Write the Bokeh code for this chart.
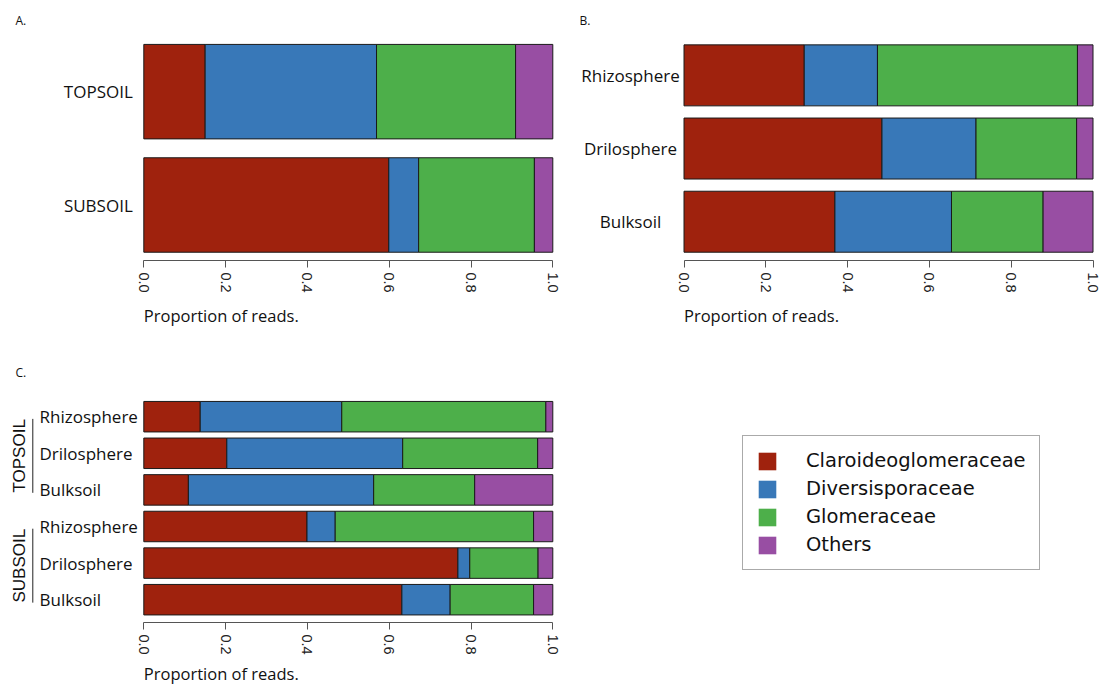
import math
from bokeh.plotting import figure
from bokeh.models import (Range1d, FixedTicker, PrintfTickFormatter, Title,
                          Legend, LegendItem, ColumnDataSource)
from bokeh.layouts import row, column
from bokeh.embed import file_html
from bokeh.resources import INLINE
from bokeh.core.properties import value

# ---------------- data ----------------
families = ["Claroideoglomeraceae", "Diversisporaceae", "Glomeraceae", "Others"]
colors = ["#9F220D", "#3878B8", "#4DAF4A", "#984EA3"]
x_ticks = [0.0, 0.2, 0.4, 0.6, 0.8, 1.0]

# Panel A
a_groups = ["TOPSOIL", "SUBSOIL"]
a_claro = [0.150, 0.599]
a_diver = [0.419, 0.073]
a_glom = [0.340, 0.283]
a_others = [0.091, 0.045]

# Panel B
b_zones = ["Rhizosphere", "Drilosphere", "Bulksoil"]
b_claro = [0.294, 0.484, 0.369]
b_diver = [0.179, 0.230, 0.285]
b_glom = [0.489, 0.246, 0.224]
b_others = [0.038, 0.040, 0.122]

# Panel C
c_layers = ["TOPSOIL", "TOPSOIL", "TOPSOIL", "SUBSOIL", "SUBSOIL", "SUBSOIL"]
c_zones = ["Rhizosphere", "Drilosphere", "Bulksoil", "Rhizosphere", "Drilosphere", "Bulksoil"]
c_claro = [0.138, 0.203, 0.109, 0.399, 0.768, 0.631]
c_diver = [0.346, 0.430, 0.453, 0.069, 0.029, 0.118]
c_glom = [0.499, 0.330, 0.247, 0.485, 0.167, 0.204]
c_others = [0.017, 0.037, 0.191, 0.047, 0.036, 0.047]

# ---------------- style ----------------
PX = 409.0          # pixels per unit of proportion
BAR_H = 1 / 1.2
LABEL_FONT = "Open Sans"
TICK_FONT = "Liberation Sans"
AXIS_COL = "#555555"
TEXT_COL = "#111111"


def make_fig(width, height, x0_px, frame_right_px, top, bottom, y_start, y_end,
             letter, letter_offset, letter_standoff, xlabel_standoff):
    p = figure(width=width, height=height,
               x_range=Range1d(-x0_px / PX, (frame_right_px - x0_px) / PX),
               y_range=Range1d(y_start, y_end),
               output_backend="svg", toolbar_location=None,
               x_axis_location="below", y_axis_location=None,
               min_border_left=0, min_border_right=width - frame_right_px,
               min_border_top=top, min_border_bottom=bottom)
    p.outline_line_color = None
    p.grid.visible = False
    p.background_fill_color = "white"
    ax = p.xaxis[0]
    ax.bounds = (0, 1)
    ax.ticker = FixedTicker(ticks=x_ticks)
    ax.formatter = PrintfTickFormatter(format="%.1f")
    ax.major_label_orientation = "vertical"
    ax.major_label_text_font = TICK_FONT
    ax.major_label_text_font_size = "14.5px"
    ax.major_label_text_color = "#222222"
    ax.major_label_standoff = 5
    ax.axis_line_color = AXIS_COL
    ax.major_tick_line_color = AXIS_COL
    ax.major_tick_in = 0
    ax.major_tick_out = 7
    ax.minor_tick_line_color = None
    p.add_layout(Title(text=letter, align="left", offset=letter_offset,
                       text_font=LABEL_FONT, text_font_size="12px",
                       text_font_style="normal", text_color=TEXT_COL,
                       standoff=letter_standoff), "above")
    p.add_layout(Title(text="Proportion of reads.", align="left", offset=x0_px,
                       text_font=LABEL_FONT, text_font_size="16.5px",
                       text_font_style="normal", text_color=TEXT_COL,
                       standoff=xlabel_standoff), "below")
    return p


def add_bars(p, ys, claro, diver, glom, others):
    src = ColumnDataSource({"y": ys, families[0]: claro, families[1]: diver,
                            families[2]: glom, families[3]: others})
    return p.hbar_stack(families, y="y", height=BAR_H, fill_color=colors,
                        line_color="#1a1a1a", line_width=1, source=src)


def add_labels(p, xs, ys, labels, align):
    p.text(x=xs, y=ys, text=labels, text_font=value(LABEL_FONT),
           text_font_size=value("17px"), text_align=align,
           text_baseline="middle", text_color=TEXT_COL)


# ---------------- panel A ----------------
pA = make_fig(564, 343, 143.3, 554, 36, 83, -0.4896, 1.4865, "A.", 15, 16, 12)
a_y = [len(a_groups) - 1 - i for i in range(len(a_groups))]
add_bars(pA, a_y, a_claro, a_diver, a_glom, a_others)
add_labels(pA, [-0.1112] * len(a_groups), a_y, a_groups, "center")

# ---------------- panel B ----------------
pB = make_fig(537, 343, 119.5, 531, 36, 83, -0.530, 2.531, "B.", 15, 16, 12)
b_y = [len(b_zones) - 1 - i for i in range(len(b_zones))]
add_bars(pB, b_y, b_claro, b_diver, b_glom, b_others)
add_labels(pB, [-0.1308] * len(b_zones), b_y, b_zones, "center")

# ---------------- panel C ----------------
C_TOP, C_BOTTOM = 49, 68
pC = make_fig(564, 347, 143.3, 554, C_TOP, C_BOTTOM, -0.623, 5.661, "C.", 15, 24, 5)
c_y = [len(c_zones) - 1 - i for i in range(len(c_zones))]
add_bars(pC, c_y, c_claro, c_diver, c_glom, c_others)
add_labels(pC, [-0.255] * len(c_zones), c_y, c_zones, "left")

# group brackets (TOPSOIL / SUBSOIL)
g_names, g_top, g_bot = [], [], []
for name in dict.fromkeys(c_layers):
    ys = [y for y, l in zip(c_y, c_layers) if l == name]
    g_names.append(name)
    g_top.append(max(ys) - 0.06)
    g_bot.append(min(ys) - 0.08)
g_mid = [(t + b) / 2 for t, b in zip(g_top, g_bot)]
pC.segment(x0=[-0.2714] * 2, x1=[-0.2714] * 2, y0=g_top, y1=g_bot,
           line_color="#222222", line_width=1)
pC.text(x=[-0.3039] * 2, y=g_mid, text=g_names, angle=math.pi / 2,
        text_font=value(TICK_FONT), text_font_size=value("17px"),
        text_align="center", text_baseline="middle", text_color=TEXT_COL)

# ---------------- legend ----------------
pL = figure(width=537, height=347, x_range=Range1d(0, 1), y_range=Range1d(0, 1),
            output_backend="svg", toolbar_location=None,
            x_axis_location=None, y_axis_location=None,
            min_border_left=0, min_border_top=C_TOP,
            min_border_right=0, min_border_bottom=C_BOTTOM)
pL.outline_line_color = None
pL.grid.visible = False
items = []
for fam, col, vals in zip(families, colors, [a_claro, a_diver, a_glom, a_others]):
    r = pL.hbar(y=a_y, right=vals, height=0.5, fill_color=col, line_color=None)
    r.visible = False
    items.append(LegendItem(label=fam, renderers=[r]))
legend = Legend(items=items, location=(178, 52), padding=13, spacing=5,
                glyph_width=22, glyph_height=22, label_standoff=28,
                label_height=23, label_text_font="DejaVu Sans",
                label_text_font_size="19.5px", label_text_color=TEXT_COL,
                label_text_baseline="alphabetic",
                border_line_color=AXIS_COL, border_line_width=1,
                background_fill_color="white", background_fill_alpha=1,
                margin=0)
pL.add_layout(legend)

layout = column(row(pA, pB), row(pC, pL))
open("out.html", "w").write(file_html(layout, INLINE))
